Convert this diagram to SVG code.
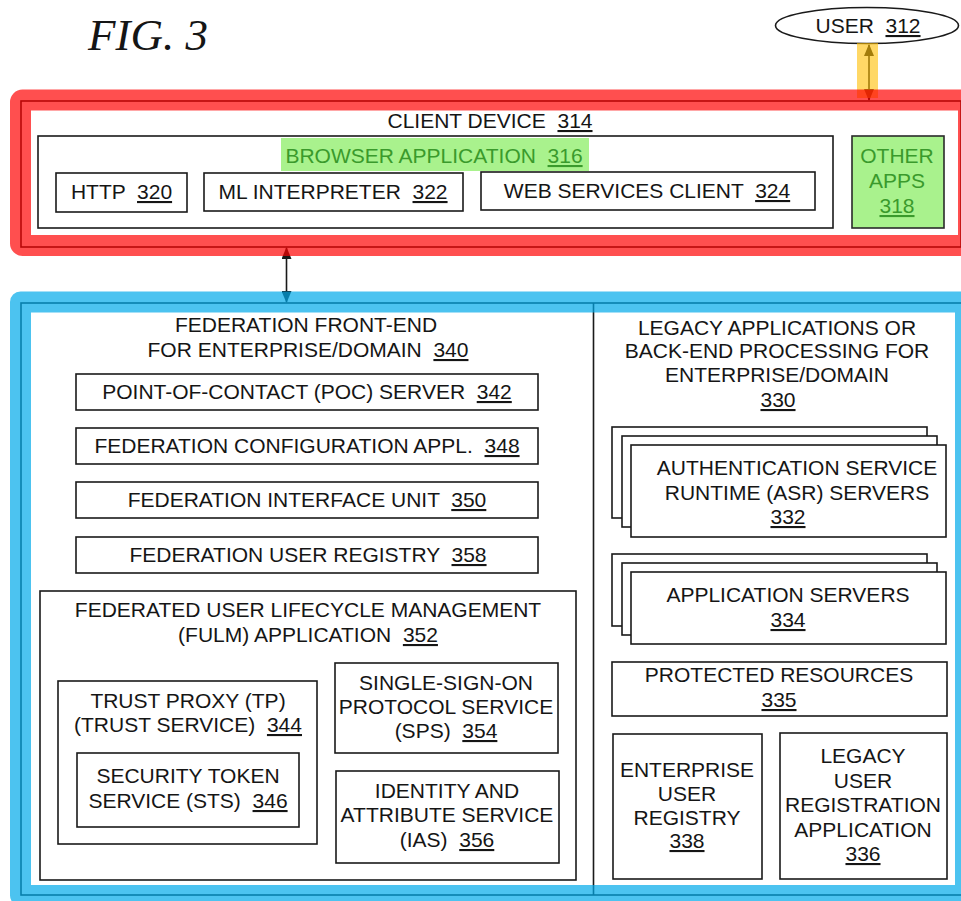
<svg xmlns="http://www.w3.org/2000/svg" width="961" height="901" viewBox="0 0 961 901">
  <style>
    text { font-family: "Liberation Sans", Arial, sans-serif; font-size: 21px; fill: #151515; text-anchor: middle; white-space: pre; }
    .fig { font-family: "Liberation Serif", "Times New Roman", serif; font-style: italic; font-size: 45px; text-anchor: start; }
    .n { text-decoration: underline; }
    .box { fill: #ffffff; stroke: #1a1a1a; stroke-width: 1.6; }
    .frame { fill: none; stroke: #1a1a1a; stroke-width: 1.6; }
    .g-text { fill: #3a9a2c; }
    .wire { stroke: #1a1a1a; stroke-width: 1.6; fill: none; }
  </style>
  <defs>
    <marker id="tip" viewBox="0 0 12 10" refX="11" refY="5" markerWidth="12" markerHeight="10" markerUnits="userSpaceOnUse" orient="auto-start-reverse">
      <path d="M0,0 L12,5 L0,10 Z" fill="#1a1a1a"/>
    </marker>
  </defs>

  <rect x="0" y="0" width="961" height="901" fill="#ffffff"/>

  <text class="fig" x="88" y="50">FIG. 3</text>

  <!-- user -->
  <g id="user-312">
    <ellipse cx="867" cy="25.5" rx="91.5" ry="18" fill="#ffffff" stroke="#1a1a1a" stroke-width="1.6"/>
    <text x="868" y="33">USER  <tspan class="n">312</tspan></text>
  </g>

  <!-- client device -->
  <g id="client-device-314">
    <rect class="frame" x="21" y="101" width="940" height="146"/>
    <text x="490" y="128">CLIENT DEVICE  <tspan class="n">314</tspan></text>
  </g>
  <g id="browser-application-316">
    <rect class="box" x="38" y="136" width="795" height="92"/>
    <rect x="281" y="138" width="308" height="33" fill="#a9f28d"/>
    <text class="g-text" x="434" y="163">BROWSER APPLICATION  <tspan class="n">316</tspan></text>
  </g>
  <g id="http-320">
    <rect class="box" x="56" y="173" width="131" height="39"/>
    <text x="121.5" y="199">HTTP  <tspan class="n">320</tspan></text>
  </g>
  <g id="ml-interpreter-322">
    <rect class="box" x="204" y="173" width="259" height="38"/>
    <text x="333" y="199">ML INTERPRETER  <tspan class="n">322</tspan></text>
  </g>
  <g id="web-services-client-324">
    <rect class="box" x="481" y="172" width="334" height="38"/>
    <text x="647" y="198">WEB SERVICES CLIENT  <tspan class="n">324</tspan></text>
  </g>
  <g id="other-apps-318">
    <rect x="852" y="136" width="92" height="92" fill="#a9f28d" stroke="#2a2a2a" stroke-width="1.6"/>
    <text class="g-text" x="897" y="163">OTHER</text>
    <text class="g-text" x="897" y="188">APPS</text>
    <text class="g-text" x="897" y="213"><tspan class="n">318</tspan></text>
  </g>

  <!-- enterprise / domain -->
  <g id="enterprise-domain">
    <rect class="frame" x="21" y="303" width="950" height="592"/>
    <line class="wire" x1="593.5" y1="303" x2="593.5" y2="895"/>
  </g>

  <g id="federation-front-end-340">
    <text x="306" y="332">FEDERATION FRONT-END</text>
    <text x="308" y="357">FOR ENTERPRISE/DOMAIN  <tspan class="n">340</tspan></text>
  </g>
  <g id="poc-server-342">
    <rect class="box" x="76" y="374" width="462" height="36"/>
    <text x="307" y="399">POINT-OF-CONTACT (POC) SERVER  <tspan class="n">342</tspan></text>
  </g>
  <g id="federation-configuration-348">
    <rect class="box" x="76" y="428" width="462" height="36"/>
    <text x="307" y="453">FEDERATION CONFIGURATION APPL.  <tspan class="n">348</tspan></text>
  </g>
  <g id="federation-interface-unit-350">
    <rect class="box" x="76" y="482" width="462" height="36"/>
    <text x="307" y="507">FEDERATION INTERFACE UNIT  <tspan class="n">350</tspan></text>
  </g>
  <g id="federation-user-registry-358">
    <rect class="box" x="76" y="537" width="462" height="36"/>
    <text x="308" y="562">FEDERATION USER REGISTRY  <tspan class="n">358</tspan></text>
  </g>

  <g id="fulm-application-352">
    <rect class="box" x="40" y="591" width="536" height="289"/>
    <text x="308" y="617">FEDERATED USER LIFECYCLE MANAGEMENT</text>
    <text x="308" y="642">(FULM) APPLICATION  <tspan class="n">352</tspan></text>
  </g>
  <g id="trust-proxy-344">
    <rect class="box" x="58" y="681" width="259" height="163"/>
    <text x="188" y="708">TRUST PROXY (TP)</text>
    <text x="188" y="732">(TRUST SERVICE)  <tspan class="n">344</tspan></text>
  </g>
  <g id="security-token-service-346">
    <rect class="box" x="77" y="753" width="222" height="74"/>
    <text x="188" y="783">SECURITY TOKEN</text>
    <text x="188" y="808">SERVICE (STS)  <tspan class="n">346</tspan></text>
  </g>
  <g id="sso-protocol-service-354">
    <rect class="box" x="335" y="663" width="223" height="90"/>
    <text x="446" y="690">SINGLE-SIGN-ON</text>
    <text x="446" y="714">PROTOCOL SERVICE</text>
    <text x="446" y="738">(SPS)  <tspan class="n">354</tspan></text>
  </g>
  <g id="identity-attribute-service-356">
    <rect class="box" x="336" y="771" width="223" height="92"/>
    <text x="447" y="798">IDENTITY AND</text>
    <text x="447" y="822">ATTRIBUTE SERVICE</text>
    <text x="447" y="847">(IAS)  <tspan class="n">356</tspan></text>
  </g>

  <g id="legacy-back-end-330">
    <text x="777" y="335">LEGACY APPLICATIONS OR</text>
    <text x="777" y="358">BACK-END PROCESSING FOR</text>
    <text x="777" y="382">ENTERPRISE/DOMAIN</text>
    <text x="778" y="407"><tspan class="n">330</tspan></text>
  </g>
  <g id="asr-servers-332">
    <rect class="box" x="612" y="427" width="315" height="91"/>
    <rect class="box" x="622" y="436" width="315" height="91"/>
    <rect class="box" x="631" y="445" width="315" height="92"/>
    <text x="797" y="475">AUTHENTICATION SERVICE</text>
    <text x="797" y="500">RUNTIME (ASR) SERVERS</text>
    <text x="788" y="524"><tspan class="n">332</tspan></text>
  </g>
  <g id="application-servers-334">
    <rect class="box" x="612" y="554" width="315" height="72"/>
    <rect class="box" x="622" y="563" width="315" height="72"/>
    <rect class="box" x="631" y="572" width="315" height="72"/>
    <text x="788" y="602">APPLICATION SERVERS</text>
    <text x="788" y="627"><tspan class="n">334</tspan></text>
  </g>
  <g id="protected-resources-335">
    <rect class="box" x="612" y="662" width="335" height="54"/>
    <text x="779" y="682">PROTECTED RESOURCES</text>
    <text x="779" y="707"><tspan class="n">335</tspan></text>
  </g>
  <g id="enterprise-user-registry-338">
    <rect class="box" x="613" y="734" width="149" height="145"/>
    <text x="687" y="777">ENTERPRISE</text>
    <text x="687" y="801">USER</text>
    <text x="687" y="825">REGISTRY</text>
    <text x="687" y="848"><tspan class="n">338</tspan></text>
  </g>
  <g id="legacy-user-registration-336">
    <rect class="box" x="780" y="733" width="167" height="146"/>
    <text x="863" y="763">LEGACY</text>
    <text x="863" y="788">USER</text>
    <text x="863" y="812">REGISTRATION</text>
    <text x="863" y="837">APPLICATION</text>
    <text x="863" y="861"><tspan class="n">336</tspan></text>
  </g>

  <!-- connectors -->
  <g id="connectors">
    <line class="wire" x1="869" y1="45" x2="869" y2="100" marker-start="url(#tip)" marker-end="url(#tip)"/>
    <line class="wire" x1="286.5" y1="248" x2="286.5" y2="302" marker-start="url(#tip)" marker-end="url(#tip)"/>
  </g>

  <!-- colour highlights laid over the line art -->
  <g id="highlights">
    <rect x="857" y="43" width="21" height="55" fill="#ffbe00" opacity="0.6"/>
    <rect x="20.5" y="100" width="948" height="145.5" rx="2" fill="none" stroke="#ff0000" stroke-width="21" stroke-linejoin="round" opacity="0.69"/>
    <rect x="20.5" y="302" width="945" height="593.5" fill="none" stroke="#00a9ea" stroke-width="21" stroke-linejoin="round" opacity="0.7"/>
  </g>
</svg>
